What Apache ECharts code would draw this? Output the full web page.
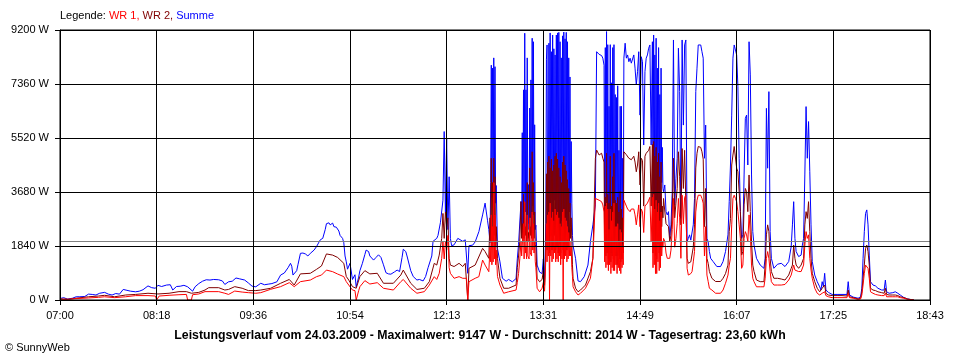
<!DOCTYPE html>
<html><head><meta charset="utf-8">
<script src="https://cdn.jsdelivr.net/npm/echarts@6/dist/echarts.min.js"></script>
<style>html,body{margin:0;padding:0;background:#fff}#c{width:960px;height:360px}</style>
</head><body><div id="c"></div>
<script>
// x values: minutes after 07:00
const tickLabels = ['07:00','08:18','09:36','10:54','12:13','13:31','14:49','16:07','17:25','18:43'];
const durchschnitt = 2014;
const legendText = ['Legende: ', 'WR 1, ', 'WR 2, ', 'Summe'];
const footerText = 'Leistungsverlauf vom 24.03.2009 - Maximalwert: 9147 W - Durchschnitt: 2014 W - Tagesertrag: 23,60 kWh';
const creditText = '\u00A9 SunnyWeb';

const summe = [[0,50],[3,80],[6,30],[10,60],[13,110],[16,110],[20,120],[23,200],[26,190],[29,170],[32,230],[36,260],[39,200],[42,170],[45,220],[48,200],[51,360],[54,330],[57,300],[61,280],[64,300],[67,350],[71,480],[74,420],[77,400],[79,500],[82,460],[86,510],[89,520],[91,340],[94,460],[97,470],[100,500],[103,450],[107,300],[109,450],[112,560],[115,640],[118,690],[121,680],[124,700],[128,690],[131,650],[133,530],[136,620],[139,640],[142,750],[145,720],[149,680],[152,580],[155,470],[158,450],[162,570],[165,520],[168,540],[171,560],[175,620],[178,850],[181,920],[184,1100],[186,1250],[187,1150],[188,850],[191,1000],[192,1200],[194,1590],[196,1600],[198,1570],[200,1500],[202,1590],[205,1700],[207,1820],[210,2050],[212,2100],[214,2400],[215,2600],[217,2630],[218,2560],[220,2620],[221,2500],[223,2480],[225,2350],[226,2200],[228,2100],[229,1950],[230,1500],[231,1300],[232,1050],[234,1250],[236,700],[238,860],[239,450],[241,780],[242,1000],[244,1250],[246,1550],[247,1700],[249,1650],[250,1500],[253,1360],[255,1450],[257,1540],[259,1450],[261,1200],[263,930],[265,890],[267,880],[270,960],[272,1020],[274,970],[276,1450],[277,1730],[279,1650],[280,1500],[283,1000],[285,800],[288,680],[290,700],[293,650],[295,800],[297,1100],[300,1500],[301,2000],[304,2100],[305,2200],[307,2650],[308,2700],[309,3400],[310,5740],[311,3000],[312,5500],[313,2400],[314,4200],[315,2100],[316,1850],[318,1880],[321,2100],[322,2160],[325,2000],[327,2050],[328,2100],[329,910],[330,1850],[333,1870],[335,1980],[338,2330],[341,2900],[343,3300],[344,3000],[345,2700],[346,2400],[347,1950],[347.5,4000],[348,8000],[348.5,3500],[349,7900],[349.5,3800],[350,8250],[350.5,4000],[351,7950],[351.5,3300],[352,3900],[353,1750],[355,1300],[357,740],[360,640],[362,700],[365,620],[368,730],[369,1400],[370,1900],[372,3360],[372.5,2300],[373,5700],[373.5,2400],[374,7160],[374.5,2300],[375,9090],[375.5,3000],[376,7160],[376.5,2500],[377,8250],[377.5,2600],[378,3930],[378.5,2400],[379,6540],[379.5,2800],[380,7500],[380.5,2500],[381,8920],[381.5,3200],[382,8800],[382.5,2900],[383,5970],[383.5,2400],[384,2550],[385,1190],[387,950],[389,900],[390,1400],[391,625],[392,2600],[392.5,8200],[393,8690],[393.5,2400],[394,2200],[394.5,8750],[395,2600],[395.5,9100],[396,3000],[396.5,8460],[397,2500],[397.5,9030],[398,2300],[398.5,8560],[399,3400],[399.5,8350],[400,2400],[400.5,9030],[401,2600],[401.5,9100],[402,2500],[402.5,9120],[403,2300],[403.5,8800],[404,2200],[404.5,8250],[405,2700],[405.5,9000],[406,2400],[406.5,9130],[407,2500],[407.5,8900],[408,2300],[408.5,9120],[409,2600],[409.5,8800],[410,2200],[410.5,8250],[411,3000],[411.5,7600],[412,2500],[412.5,5400],[413,3300],[413.5,2200],[414,1850],[416,1420],[418,650],[420,625],[423,795],[426,1190],[428,1990],[430,2560],[432,3240],[433,8460],[435,8370],[437,8330],[438,8240],[439,8000],[439.5,2500],[440,8600],[440.5,2000],[441,9147],[441.5,2300],[442,8700],[442.5,1800],[443,6600],[443.5,2200],[444,8700],[444.5,1600],[445,7400],[445.5,2000],[446,8600],[446.5,1900],[447,8700],[447.5,1700],[448,7000],[448.5,2100],[449,6900],[449.5,1500],[450,7300],[450.5,2000],[451,5100],[451.5,1800],[452,6600],[452.5,1600],[453,6600],[453.5,1900],[454,4830],[454.5,2400],[455,8240],[456,8750],[457,8240],[458,8350],[459,8120],[460,8240],[461,8070],[462,8010],[463,8350],[464,7900],[465,7330],[466,7780],[467,8460],[468,6300],[469,8290],[470,8120],[471,5280],[472,7780],[473,8240],[474,8350],[475,8580],[476,8690],[477,5280],[478,8800],[478.5,2700],[479,9030],[479.5,3000],[480,8350],[480.5,2500],[481,8920],[481.5,2400],[482,7900],[482.5,3200],[483,8600],[483.5,2600],[484,7000],[484.5,2800],[485,7900],[485.5,4000],[486,5200],[486.5,3800],[487,3690],[488,3920],[489,3010],[490,2900],[491,3010],[492,2100],[493,2560],[494,3690],[495,8860],[496,3240],[497,4150],[498,4830],[499,8580],[500,7100],[501,2780],[502,8860],[503,5960],[504,8690],[505,8860],[506,1990],[507,2100],[508,2220],[509,2040],[510,2100],[511,2560],[512,3460],[513,7100],[514,7900],[515,8690],[516,8750],[517,8690],[518,8460],[519,8240],[520,4830],[521,5960],[522,2100],[523,1990],[524,1650],[525,1420],[527,1310],[530,1140],[533,1140],[535,1310],[537,1650],[539,2220],[540,3350],[541,4600],[542,6300],[543,8240],[544,8690],[545,8690],[546,8350],[547,7270],[548,4830],[549,3010],[550,2100],[551,2220],[552,4260],[553,6190],[554,6300],[555,4600],[556,8800],[557,7670],[558,4260],[559,2330],[560,1870],[562,1420],[565,1190],[568,1080],[569,1420],[570,6530],[571,4490],[572,7100],[573,2330],[574,1420],[576,1080],[579,1220],[582,1250],[585,1140],[588,1310],[590,1820],[591,2560],[592,3350],[593,2100],[594,1650],[596,1480],[598,1530],[599,1870],[600,2100],[601,4260],[602,6590],[603,4830],[604,6080],[605,4370],[606,2560],[607,1310],[609,850],[611,625],[613,450],[614,340],[615,625],[616,450],[617,910],[618,340],[620,260],[623,190],[627,190],[631,190],[635,190],[636,625],[637,170],[640,100],[644,60],[646,110],[647,400],[648,1420],[649,2330],[650,2950],[651,3070],[652,2560],[653,1530],[654,625],[656,510],[658,480],[660,400],[663,340],[665,340],[666,680],[667,280],[669,230],[672,250],[674,280],[676,230],[678,170],[681,80],[684,35],[686,20],[689,0]];

const wr2 = [[0,35],[7,25],[12,55],[23,110],[31,135],[36,160],[44,110],[53,170],[61,190],[71,230],[79,205],[88,230],[96,285],[102,285],[106,230],[112,260],[117,340],[120,420],[128,420],[133,340],[136,360],[141,455],[147,400],[152,320],[158,320],[162,340],[170,400],[178,570],[185,700],[189,510],[194,890],[202,910],[207,1045],[211,1160],[215,1570],[220,1530],[224,1450],[229,1250],[231,800],[233,680],[236,455],[239,400],[242,800],[246,1000],[250,890],[256,910],[261,570],[269,570],[275,850],[277,1020],[283,570],[288,360],[294,400],[298,625],[302,1250],[304,1190],[306,1530],[308,2100],[309,2950],[310,2100],[311,3000],[312,2500],[313,2800],[314,1420],[315,1190],[318,1140],[322,1250],[325,1140],[327,1250],[328,1200],[329,0],[330,1080],[335,1190],[341,1760],[343,1650],[346,1420],[347,2800],[347.5,2000],[348,4830],[348.5,1800],[349,4000],[349.5,2000],[350,4830],[350.5,2200],[351,4200],[351.5,1800],[352,2500],[353,1420],[355,740],[358,400],[362,400],[368,510],[369,1100],[370,1500],[371,2000],[372,3350],[372.5,2100],[373,2600],[373.5,2000],[374,3600],[374.5,2100],[375,3300],[375.5,2200],[376,2500],[376.5,2000],[377,4000],[377.5,2100],[378,2300],[378.5,2000],[379,4500],[379.5,2200],[380,2500],[380.5,2100],[381,5050],[381.5,2300],[382,4000],[382.5,2100],[383,3000],[383.5,1900],[384,1800],[385,740],[387,620],[389,700],[390,1000],[391,500],[392,1800],[392.5,4300],[393,1700],[393.5,4700],[394,2000],[394.5,4900],[395,1600],[395.5,4500],[396,2200],[396.5,4800],[397,1700],[397.5,4400],[398,1800],[398.5,4600],[399,2200],[399.5,4900],[400,1700],[400.5,5000],[401,1800],[401.5,4800],[402,1600],[402.5,4500],[403,1900],[403.5,4200],[404,1600],[404.5,4000],[405,2000],[405.5,4700],[406,1700],[406.5,4900],[407,1800],[407.5,4600],[408,1900],[408.5,4400],[409,1700],[409.5,4100],[410,1800],[410.5,3800],[411,2000],[411.5,3300],[412,2100],[412.5,2800],[413,2000],[413.5,1200],[414,740],[416,400],[418,280],[420,340],[424,510],[428,965],[430,1420],[432,4830],[433,5110],[435,4940],[437,5000],[438,4830],[439,4700],[439.5,1700],[440,3500],[440.5,1500],[441,5000],[441.5,1600],[442,3600],[442.5,1400],[443,3300],[443.5,1500],[444,4900],[444.5,1300],[445,3200],[445.5,1500],[446,4200],[446.5,1400],[447,5000],[447.5,1300],[448,3400],[448.5,1500],[449,3300],[449.5,1200],[450,3500],[450.5,1500],[451,3000],[451.5,1400],[452,3700],[452.5,1300],[453,3100],[453.5,1400],[454,2800],[454.5,1600],[455,5050],[456,5000],[457,4950],[458,4900],[459,4830],[460,4830],[461,4780],[462,4830],[463,4900],[464,4700],[465,4370],[466,4600],[467,5050],[468,3920],[469,4830],[470,4750],[471,3200],[472,4900],[473,5000],[474,5050],[475,5100],[476,5230],[477,3200],[478,5300],[478.5,1600],[479,5400],[479.5,1800],[480,4900],[480.5,1500],[481,5200],[481.5,1400],[482,4700],[482.5,1900],[483,5000],[483.5,1600],[484,4200],[484.5,1700],[485,4700],[485.5,2500],[486,3200],[486.5,2800],[487,3460],[488,3400],[489,2600],[490,2560],[491,2500],[492,1990],[493,2200],[494,3000],[495,4830],[496,2800],[497,3300],[498,3800],[499,5050],[500,4200],[501,2560],[502,5160],[503,3800],[504,5100],[505,5160],[506,1420],[507,1250],[508,1250],[509,1300],[510,1310],[511,1800],[512,2560],[513,4500],[514,5000],[515,5230],[516,5230],[517,5200],[518,5050],[519,4800],[520,2500],[521,3800],[522,1420],[523,1250],[524,970],[526,740],[529,630],[533,630],[535,740],[537,900],[539,1190],[540,2330],[541,2780],[542,4600],[543,4940],[544,5230],[545,5170],[546,4490],[547,4370],[548,3690],[549,3010],[550,1530],[551,1650],[552,3240],[553,3800],[554,3690],[555,3010],[556,4260],[557,3010],[558,1990],[559,1190],[560,970],[562,680],[565,625],[568,625],[569,1190],[570,2220],[571,2560],[572,2330],[573,1420],[574,970],[576,740],[579,740],[582,715],[585,680],[588,850],[590,1080],[591,1190],[592,1870],[593,1420],[594,1190],[596,1080],[598,1190],[599,1250],[600,1420],[601,2560],[602,3010],[603,2780],[604,3350],[605,2330],[606,1420],[607,910],[609,625],[611,400],[613,280],[614,230],[615,400],[616,340],[617,510],[618,230],[620,170],[623,150],[627,150],[631,150],[635,135],[636,340],[637,110],[640,80],[644,35],[646,60],[647,280],[648,740],[649,1190],[650,1760],[651,1870],[652,1650],[653,1190],[654,400],[656,340],[658,320],[660,280],[663,250],[665,230],[666,400],[667,190],[669,170],[672,170],[674,170],[676,150],[678,110],[681,80],[684,35],[686,20],[689,0]];

const wr1 = [[0,25],[7,25],[12,45],[23,70],[31,90],[36,110],[44,80],[53,110],[61,150],[71,150],[77,135],[78,0],[79,0],[80,135],[88,160],[96,180],[102,190],[103,0],[106,0],[107,180],[112,205],[117,285],[128,285],[133,230],[136,190],[141,305],[147,270],[152,250],[158,230],[162,250],[170,365],[178,455],[185,590],[189,455],[194,625],[202,680],[207,795],[211,850],[215,1020],[220,965],[224,885],[229,795],[231,625],[233,510],[236,340],[238,320],[239,0],[240,0],[241,320],[242,455],[246,660],[250,545],[256,590],[261,400],[269,340],[275,625],[277,700],[283,400],[288,230],[294,285],[298,510],[302,795],[304,700],[306,910],[308,1420],[309,1990],[310,1400],[311,2000],[312,1700],[313,2200],[314,1100],[315,910],[318,740],[322,795],[325,740],[328,740],[329,0],[330,625],[335,740],[338,795],[341,1360],[343,1190],[346,965],[347,1800],[347.5,1300],[348,2900],[348.5,1200],[349,2500],[349.5,1300],[350,4000],[350.5,1400],[351,2900],[351.5,1200],[352,1700],[353,800],[355,510],[358,230],[362,280],[368,340],[369,600],[370,900],[371,1400],[372,2000],[372.5,1500],[373,1500],[373.5,1500],[374,2600],[374.5,1400],[375,3350],[375.5,1600],[376,1800],[376.5,1400],[377,2900],[377.5,1500],[378,1500],[378.5,1400],[379,2800],[379.5,1600],[380,1600],[380.5,1500],[381,3000],[381.5,1700],[382,2600],[382.5,1600],[383,2000],[383.5,1300],[384,1100],[385,400],[387,280],[389,400],[390,600],[391,300],[392,1400],[392.5,2600],[393,1300],[393.5,2900],[394,1500],[394.5,3000],[395,0],[395.5,3300],[396,1500],[396.5,2800],[397,1300],[397.5,3000],[398,1400],[398.5,2700],[399,1600],[399.5,3100],[400,1300],[400.5,2900],[401,1400],[401.5,3000],[402,1300],[402.5,2800],[403,1500],[403.5,2600],[404,1200],[404.5,2500],[405,1400],[405.5,3000],[406,0],[406.5,3100],[407,1400],[407.5,2800],[408,1500],[408.5,2700],[409,1300],[409.5,2500],[410,1400],[410.5,2300],[411,1500],[411.5,2000],[412,1500],[412.5,1800],[413,1100],[413.5,800],[414,450],[416,280],[418,170],[420,230],[424,400],[428,740],[430,1420],[432,3460],[433,3400],[435,3400],[437,3350],[438,3240],[439,3000],[439.5,1300],[440,3200],[440.5,1100],[441,3300],[441.5,1200],[442,3100],[442.5,1000],[443,2400],[443.5,1200],[444,3100],[444.5,900],[445,2700],[445.5,1100],[446,3000],[446.5,1000],[447,3300],[447.5,1000],[448,2500],[448.5,1200],[449,2500],[449.5,900],[450,2600],[450.5,1100],[451,2000],[451.5,1000],[452,2400],[452.5,900],[453,2300],[453.5,1100],[454,1800],[454.5,1200],[455,3400],[456,3350],[457,3200],[458,3100],[459,3050],[460,3010],[461,3100],[462,3050],[463,3100],[464,2900],[465,2560],[466,2900],[467,3240],[468,2500],[469,3100],[470,3000],[471,2300],[472,3200],[473,3240],[474,3300],[475,3400],[476,3500],[477,2000],[478,3500],[478.5,1100],[479,3600],[479.5,1200],[480,3100],[480.5,900],[481,3400],[481.5,900],[482,3000],[482.5,1300],[483,3300],[483.5,1000],[484,2700],[484.5,1100],[485,3000],[485.5,1500],[486,2000],[486.5,1800],[487,2100],[488,2000],[489,1600],[490,1420],[491,1400],[492,1420],[493,1700],[494,2400],[495,3460],[496,1800],[497,2100],[498,2600],[499,3460],[500,2800],[501,1420],[502,3570],[503,2600],[504,3500],[505,3570],[506,1080],[507,850],[508,850],[509,900],[510,970],[511,1300],[512,1650],[513,3000],[514,3400],[515,3570],[516,3570],[517,3570],[518,3460],[519,3300],[520,1500],[521,2500],[522,850],[523,630],[524,400],[526,340],[529,230],[533,230],[535,340],[537,570],[539,850],[540,1190],[541,1420],[542,2560],[543,3460],[544,3570],[545,3460],[546,3350],[547,3010],[548,2560],[549,2100],[550,1080],[551,1190],[552,2100],[553,2330],[554,2220],[555,1990],[556,2900],[557,2220],[558,1190],[559,740],[560,625],[562,450],[565,450],[568,450],[569,740],[570,1420],[571,1650],[572,1420],[573,970],[574,625],[576,510],[579,510],[582,510],[585,530],[588,680],[590,850],[591,910],[592,1190],[593,1020],[594,970],[596,970],[598,970],[599,1020],[600,1190],[601,1870],[602,2330],[603,2100],[604,2220],[605,1420],[606,1020],[607,740],[609,400],[611,230],[613,170],[614,150],[615,230],[616,190],[617,280],[618,150],[620,110],[623,80],[627,80],[631,80],[635,80],[636,230],[637,80],[640,60],[644,20],[646,35],[647,170],[648,510],[649,910],[650,1190],[651,1250],[652,1080],[653,740],[654,280],[656,230],[658,190],[660,170],[663,150],[665,150],[666,230],[667,110],[669,110],[672,110],[674,110],[676,110],[678,80],[681,60],[684,20],[686,10],[689,0]];

const F = '"Liberation Sans", Arial, sans-serif';
const chart = echarts.init(document.getElementById('c'), null, {renderer: 'canvas'});
const lineSeries = (name, data, color, z) => ({
  type: 'line', name, data, z, showSymbol: false, symbol: 'none',
  lineStyle: {color, width: 1}, itemStyle: {color}, silent: true
});
chart.setOption({
  animation: false,
  backgroundColor: '#fff',
  title: [
    {text: '{k|' + legendText[0] + '}{a|' + legendText[1] + '}{b|' + legendText[2] + '}{c|' + legendText[3] + '}',
     left: 60, top: 10, padding: 0,
     textStyle: {fontSize: 11, fontFamily: F, fontWeight: 'normal', rich: {
       k: {color: '#000', fontSize: 11, fontFamily: F},
       a: {color: '#ff0000', fontSize: 11, fontFamily: F},
       b: {color: '#800000', fontSize: 11, fontFamily: F},
       c: {color: '#0000ff', fontSize: 11, fontFamily: F}}}},
    {text: footerText, left: 'center', top: 330, padding: 0,
     textStyle: {fontSize: 12.3, fontFamily: F, fontWeight: 'bold', color: '#000'}},
    {text: creditText, left: 5, top: 342, padding: 0,
     textStyle: {fontSize: 11, fontFamily: F, fontWeight: 'normal', color: '#000'}}
  ],
  grid: {left: 60, right: 30, top: 30, bottom: 60, show: true, borderColor: '#000', borderWidth: 1, z: 10},
  xAxis: {
    type: 'value', min: 0, max: 702, interval: 78, z: 10,
    axisLine: {show: true, lineStyle: {color: '#000', width: 1}},
    axisTick: {show: true, length: 5, lineStyle: {color: '#000', width: 1}},
    axisLabel: {margin: 10, color: '#000', fontFamily: F, fontSize: 11, showMinLabel: true, showMaxLabel: true,
      formatter: v => tickLabels[Math.round(v / 78)]},
    splitLine: {show: true, lineStyle: {color: '#000', width: 1}}
  },
  yAxis: {
    type: 'value', min: 0, max: 9200, interval: 1840, z: 10,
    axisLine: {show: true, lineStyle: {color: '#000', width: 1}},
    axisTick: {show: true, length: 5, lineStyle: {color: '#000', width: 1}},
    axisLabel: {margin: 11, color: '#000', fontFamily: F, fontSize: 11, formatter: v => v + ' W'},
    splitLine: {show: true, lineStyle: {color: '#000', width: 1}}
  },
  series: [
    lineSeries('Summe', summe, '#0000ff', 2),
    lineSeries('WR 2', wr2, '#800000', 3),
    lineSeries('WR 1', wr1, '#ff0000', 4),
    {type: 'line', name: 'avg', data: [], z: 20, silent: true,
     markLine: {silent: true, symbol: 'none', animation: false, label: {show: false},
       lineStyle: {color: '#808080', type: 'solid', width: 1},
       data: [{yAxis: durchschnitt}]}}
  ]
});
</script></body></html>
